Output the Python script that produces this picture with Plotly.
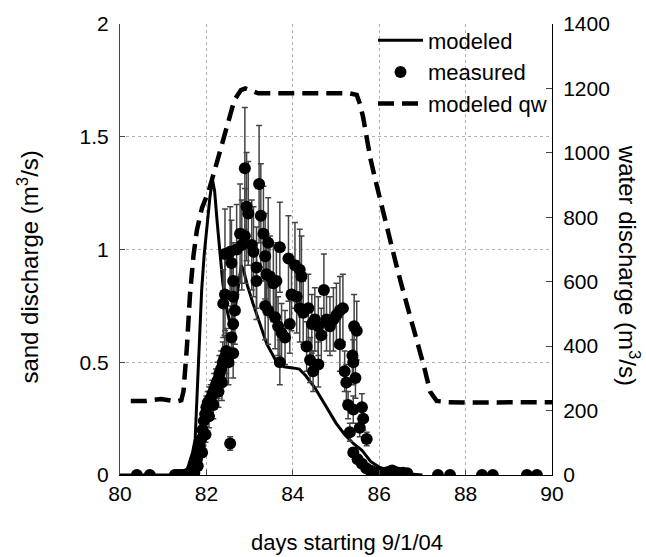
import plotly.graph_objects as go

# ---- modeled sand discharge (m3/s) ----
mod_x = [80.0, 81.0, 81.45, 81.55, 81.62, 81.68, 81.74, 81.78, 81.84, 81.89, 81.95, 82.02, 82.08, 82.14,
         82.19, 82.25, 82.31, 82.38, 82.47, 82.56, 82.65, 82.74, 82.81, 82.87, 82.95, 83.08, 83.24, 83.4,
         83.6, 83.8, 84.0, 84.15, 84.3, 84.5, 84.75, 85.0, 85.2, 85.4, 85.6, 85.8, 86.0, 86.2, 86.5, 86.8, 87.0]
mod_y = [0, 0, 0, 0.02, 0.06, 0.1, 0.16, 0.35, 0.62, 0.82, 0.98, 1.12, 1.23, 1.31,
         1.26, 1.12, 0.98, 0.85, 0.74, 0.66, 0.72, 0.85, 0.93, 0.9, 0.84, 0.76, 0.67, 0.58,
         0.51, 0.48, 0.475, 0.47, 0.44, 0.39, 0.31, 0.23, 0.18, 0.14, 0.11, 0.06, 0.035, 0.02, 0.008, 0.003, 0]

# ---- measured sand discharge with error bars ----
meas_x = [80.39, 80.69, 81.27, 81.33, 81.39, 81.45, 81.5, 81.54, 81.58,
          81.62, 81.66, 81.7, 81.74, 81.78, 81.82, 81.85, 81.88, 81.91, 81.94, 81.97, 82.0, 82.03, 82.07,
          82.1, 82.14, 82.18, 82.22, 82.26, 82.3, 82.34, 82.38, 82.42, 82.46,
          81.72, 81.8, 81.9, 81.98, 82.06, 82.16, 82.28, 82.36,
          82.55,
          82.39, 82.43, 82.43, 82.55, 82.58, 82.62, 82.62, 82.66, 82.62, 82.58, 82.62, 82.51, 82.47,
          82.7, 82.78, 82.82, 82.89, 82.89, 82.93, 82.97, 83.05, 83.09, 83.16, 83.16, 83.22, 83.26, 83.32,
          83.36, 83.43, 83.39, 83.47, 83.36, 83.43, 83.55, 83.62, 83.7, 83.59, 83.66, 83.74, 83.82, 83.7,
          83.9, 84.05, 84.16, 84.2, 83.97, 84.09, 84.16, 83.93, 84.24, 84.36, 84.44, 84.51, 84.59, 84.66,
          84.72, 84.78, 84.86, 84.94, 85.01, 85.09, 85.16, 84.32, 84.4, 84.47, 84.59, 85.09, 85.2, 85.24,
          85.42, 85.48, 85.38, 85.4, 85.45, 85.28, 85.4, 85.6, 85.63, 85.71, 85.55, 85.32, 85.4, 85.5,
          85.6, 85.7, 85.79,
          85.85, 85.9, 85.95, 86.0, 86.05, 86.1, 86.15, 86.2, 86.25, 86.3, 86.35, 86.4, 86.45, 86.55, 86.65,
          87.36, 87.64, 88.38, 88.63, 89.42, 89.65]
meas_y = [0, 0, 0, 0, 0, 0, 0, 0.003, 0.005,
          0.01, 0.02, 0.03, 0.05, 0.07, 0.1, 0.13, 0.16, 0.2, 0.24, 0.27, 0.3, 0.32, 0.33,
          0.34, 0.36, 0.38, 0.4, 0.42, 0.45, 0.47, 0.5, 0.52, 0.55,
          0.01, 0.04, 0.1, 0.18, 0.26, 0.31, 0.37, 0.41,
          0.14,
          0.76, 0.8, 0.98, 0.99, 0.94, 0.86, 0.79, 0.73, 0.67, 0.61, 0.54, 0.5, 0.53,
          1.0, 1.07, 1.02, 1.06, 1.36, 1.19, 1.16, 1.02, 0.99, 0.92, 0.86, 1.29, 1.15, 1.07,
          0.97, 1.03, 0.89, 0.88, 0.75, 0.73, 0.85, 0.86, 1.01, 0.7, 0.66, 0.63, 0.61, 0.5,
          0.96, 0.93, 0.91, 0.88, 0.8, 0.79, 0.74, 0.67, 0.72, 0.74, 0.67, 0.69, 0.66, 0.62,
          0.82, 0.69, 0.66, 0.69, 0.71, 0.73, 0.74, 0.57, 0.51, 0.46, 0.49, 0.58, 0.46, 0.41,
          0.66, 0.64, 0.53, 0.5, 0.43, 0.31, 0.29, 0.3, 0.25, 0.16, 0.21, 0.19, 0.1, 0.07,
          0.05, 0.03, 0.02,
          0.015, 0.01, 0.01, 0.008, 0.01, 0.008, 0.01, 0.012, 0.015, 0.02, 0.015, 0.01, 0.01, 0.01, 0.008,
          0, 0, 0, 0, 0, 0]
meas_err = [0, 0, 0, 0, 0, 0, 0, 0.003, 0.004,
            0.005, 0.006, 0.008, 0.01, 0.015, 0.02, 0.025, 0.03, 0.03, 0.04, 0.04, 0.05, 0.05, 0.06,
            0.06, 0.06, 0.07, 0.07, 0.08, 0.08, 0.08, 0.09, 0.1, 0.1,
            0.004, 0.01, 0.02, 0.035, 0.05, 0.06, 0.07, 0.08,
            0.03,
            0.15, 0.16, 0.2, 0.2, 0.19, 0.17, 0.16, 0.15, 0.13, 0.12, 0.11, 0.1, 0.1,
            0.2, 0.22, 0.2, 0.21, 0.27, 0.24, 0.23, 0.2, 0.2, 0.18, 0.17, 0.26, 0.23, 0.21,
            0.19, 0.2, 0.18, 0.18, 0.15, 0.15, 0.17, 0.17, 0.2, 0.14, 0.13, 0.13, 0.12, 0.1,
            0.19, 0.19, 0.18, 0.18, 0.16, 0.16, 0.15, 0.13, 0.14, 0.15, 0.13, 0.14, 0.13, 0.12,
            0.16, 0.14, 0.13, 0.14, 0.14, 0.15, 0.15, 0.11, 0.1, 0.09, 0.1, 0.12, 0.09, 0.08,
            0.14, 0.13, 0.11, 0.1, 0.09, 0.06, 0.06, 0.06, 0.05, 0.03, 0.04, 0.04, 0.02, 0.015,
            0.01, 0.008, 0.005,
            0.004, 0.003, 0.003, 0.003, 0.003, 0.003, 0.003, 0.003, 0.004, 0.005, 0.004, 0.003, 0.003, 0.003, 0.003,
            0, 0, 0, 0, 0, 0]

# ---- modeled water discharge (m3/s) ----
qw_x = [80.25, 80.6, 80.95, 81.3, 81.42, 81.47, 81.55, 81.62, 81.7, 81.78, 81.9, 82.05, 82.2, 82.35,
        82.5, 82.65, 82.8, 82.9, 83.0, 83.2, 83.6, 84.0, 84.5, 85.0, 85.3, 85.48, 85.56, 85.63, 85.71,
        85.8, 85.94, 86.1, 86.25, 86.4, 86.55, 86.7, 86.87, 87.05, 87.18, 87.33, 87.6, 88.0, 88.5, 89.0,
        89.5, 90.0]
qw_y = [230, 230, 236, 228, 232, 260, 400, 560, 680, 760, 830, 880, 950, 1020,
        1100, 1165, 1195, 1200, 1195, 1185, 1185, 1185, 1186, 1186, 1185, 1180, 1150, 1109, 1040,
        980, 900, 810, 728, 650, 573, 495, 418, 330, 258, 230, 226, 225, 225, 224,
        224, 226]

x_ticks = [80, 82, 84, 86, 88, 90]
y_ticks = [0, 0.5, 1, 1.5, 2]
y_ticktext = ["0", "0.5", "1", "1.5", "2"]
y2_ticks = [0, 200, 400, 600, 800, 1000, 1200, 1400]

FONT = "Liberation Sans, Arial, Helvetica, sans-serif"

fig = go.Figure()
fig.add_trace(go.Scatter(x=mod_x, y=mod_y, mode="lines", name="modeled",
                         line=dict(color="black", width=3)))
fig.add_trace(go.Scatter(x=meas_x, y=meas_y, mode="markers", name="measured",
                         marker=dict(color="black", size=12),
                         error_y=dict(type="data", array=meas_err, color="#444444",
                                      thickness=1.5, width=3)))
fig.add_trace(go.Scatter(x=qw_x, y=qw_y, mode="lines", name="modeled qw", yaxis="y2",
                         line=dict(color="black", width=4.5, dash="16px,8px")))

fig.update_layout(
    width=646, height=557,
    margin=dict(l=120, r=94, t=22, b=82),
    plot_bgcolor="white", paper_bgcolor="white",
    font=dict(family=FONT, size=21, color="black"),
    legend=dict(x=1.0, y=1.01, xanchor="right", yanchor="top",
                bgcolor="rgba(0,0,0,0)", font=dict(size=22), itemwidth=45),
    xaxis=dict(range=[80, 90], tickvals=x_ticks, showgrid=True, gridcolor="#b0b0b0",
               griddash="dot", gridwidth=1, showline=True, linecolor="black", linewidth=1,
               ticks="inside", ticklen=5, zeroline=False),
    yaxis=dict(range=[0, 2], tickvals=y_ticks, ticktext=y_ticktext,
               showgrid=True, gridcolor="#b0b0b0", griddash="dot", gridwidth=1,
               showline=True, linecolor="#444444", linewidth=1, ticks="inside", ticklen=5,
               zeroline=False, ticklabelstandoff=6),
    yaxis2=dict(range=[0, 1400], tickvals=y2_ticks, overlaying="y", side="right",
                showgrid=False, showline=True, linecolor="black", linewidth=1,
                ticks="inside", ticklen=6, zeroline=False, ticklabelstandoff=6),
    annotations=[
        dict(text="days starting 9/1/04", xref="paper", yref="paper", x=0.525, y=-0.15,
             xanchor="center", yanchor="middle", showarrow=False, font=dict(size=22)),
        dict(text="sand discharge (m<sup>3</sup>/s)", xref="paper", yref="paper", x=-0.213, y=0.462,
             xanchor="center", yanchor="middle", textangle=-90, showarrow=False, font=dict(size=24)),
        dict(text="water discharge (m<sup>3</sup>/s)", xref="paper", yref="paper", x=1.178, y=0.464,
             xanchor="center", yanchor="middle", textangle=90, showarrow=False, font=dict(size=24)),
    ],
)

fig.write_html("out.html")
